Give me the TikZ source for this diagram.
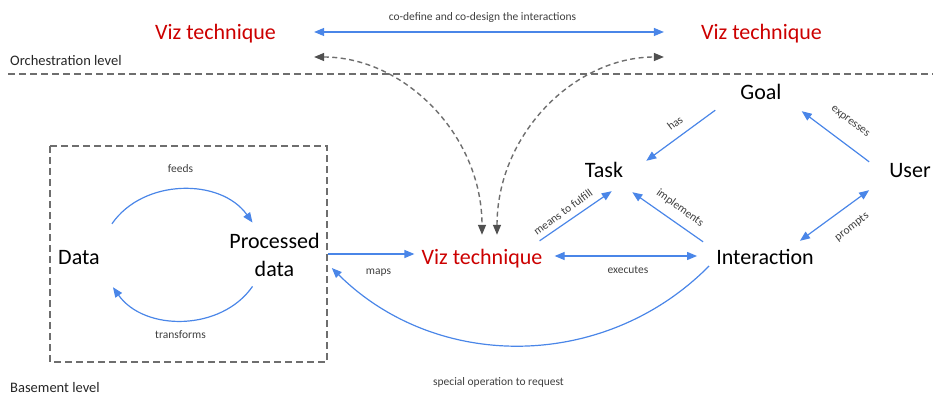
\documentclass[tikz,border=0pt]{standalone}
\usepackage{fontspec}
\setmainfont{Carlito}
\usepackage{xcolor}
\usetikzlibrary{calc}
\usetikzlibrary{positioning,arrows.meta}
\definecolor{linkblue}{HTML}{4A86E8}
\definecolor{vizred}{HTML}{CC0000}
\definecolor{dashgrey}{HTML}{6E6E6E}
\definecolor{headgrey}{HTML}{505050}
\definecolor{labelgrey}{HTML}{3F3F3F}
\tikzset{
  big/.style={font=\fontsize{22}{28}\selectfont, inner sep=0pt, text height=16pt, text depth=5pt},
  viz/.style={big, text=vizred},
  lbl/.style={font=\fontsize{11.5}{13}\selectfont, text=labelgrey, inner sep=0pt},
  level/.style={font=\fontsize{14.5}{17}\selectfont, anchor=base west, inner sep=0pt, text=black!85},
  link/.style={draw=linkblue, line width=1.2pt},
  sketch/.style={draw=dashgrey, line width=1.4pt, dash pattern=on 5pt off 3.5pt,
    {Triangle[length=10pt,width=8pt,color=headgrey]}-{Triangle[length=10pt,width=8pt,color=headgrey]}},
  border/.style={draw=dashgrey, line width=1.5pt, dash pattern=on 7pt off 4pt}
}

\begin{document}
\begin{tikzpicture}[x=1pt,y=1pt,>={Triangle[length=10pt,width=8pt]}]
\useasboundingbox (0,0) rectangle (933,394);
% levels
\draw[border] (8,320) -- (933,320);
\node[level] (orch) at (10,328) {Orchestration level};
\node[level] (base) at (10,2) {Basement level};
\draw[border] (50,248) rectangle (327,32);
% nodes
\node[viz] (vizleft) at (215.5,359.5) {Viz technique};
\node[viz] (vizright) at (761.5,359.5) {Viz technique};
\node[viz] (viz) at (482,135.5) {Viz technique};
\node[big] (data) at (79,135.5) {Data};
\node[font=\fontsize{22}{28}\selectfont, inner sep=0pt, align=center] (proc) at (274.5,139.5) {Processed\\data};
\node[big] (inter) at (765,135.5) {Interaction};
\node[big] (task) at (604,222.5) {Task};
\node[big] (goal) at (761,299.5) {Goal};
\node[big] (user) at (910,222.5) {User};
% top level
\draw[link,<->] ([shift={(38,2.5)}]vizleft.east) -- ([shift={(-37,2.5)}]vizright.west);
\node[lbl,anchor=base] at (482.5,373) {co-define and co-design the interactions};
\draw[sketch] ([shift={(38,-22.5)}]vizleft.east) .. controls +(90,0) and +(0,100) .. ([yshift=13]viz.north);
\draw[sketch] ([shift={(15,13)}]viz.north) .. controls +(0,100) and +(-90,0) .. ([shift={(-37,-22.5)}]vizright.west);
% data box
\draw[link,->] ([shift={(12,24)}]data.north east) to[bend left=55] ([shift={(-22,10)}]proc.north);
\node[lbl,anchor=base] at (180.5,222) {feeds};
\draw[link,->] ([shift={(-22,-10)}]proc.south) to[bend left=55] ([shift={(13,-18)}]data.south east);
\node[lbl,anchor=base] at (180.5,56) {transforms};
% basement
\draw[link,->] ([shift={(8,0.5)}]proc.east) -- ([shift={(-7,4.5)}]viz.west);
\node[lbl,anchor=base] at (378.5,120) {maps};
\draw[link,<->] ([shift={(12,2.5)}]viz.east) -- ([shift={(-19,2.5)}]inter.west);
\node[lbl,anchor=base] at (628,121) {executes};
\draw[link,->] ([shift={(-7,-7.5)}]inter.west) to[bend left=45] ([shift={(12,-13.5)}]proc.east);
\node[lbl,anchor=base] at (498.5,9) {special operation to request};
\draw[link,->] ([shift={(-3,7)}]viz.north east) -- ([shift={(27,-9)}]task.south west);
\node[lbl,rotate=36] at (563,182) {means to fulfill};
\draw[link,->] ([shift={(-13,6)}]inter.north west) -- ([shift={(9,-10)}]task.south east);
\node[lbl,rotate=-36] at (680,186) {implements};
\draw[link,->] ([shift={(-25,-5)}]goal.south west) -- ([shift={(23,0)}]task.north east);
\node[lbl,rotate=37] at (675,271) {has};
\draw[link,->] ([shift={(-20,-1)}]user.north west) -- ([shift={(20,-6)}]goal.south east);
\node[lbl,rotate=-37] at (850,272) {expresses};
\draw[link,<->] ([shift={(-20,-8)}]user.south west) -- ([shift={(-14,7)}]inter.north east);
\node[lbl,rotate=37] at (852,167) {prompts};
\end{tikzpicture}
\end{document}
